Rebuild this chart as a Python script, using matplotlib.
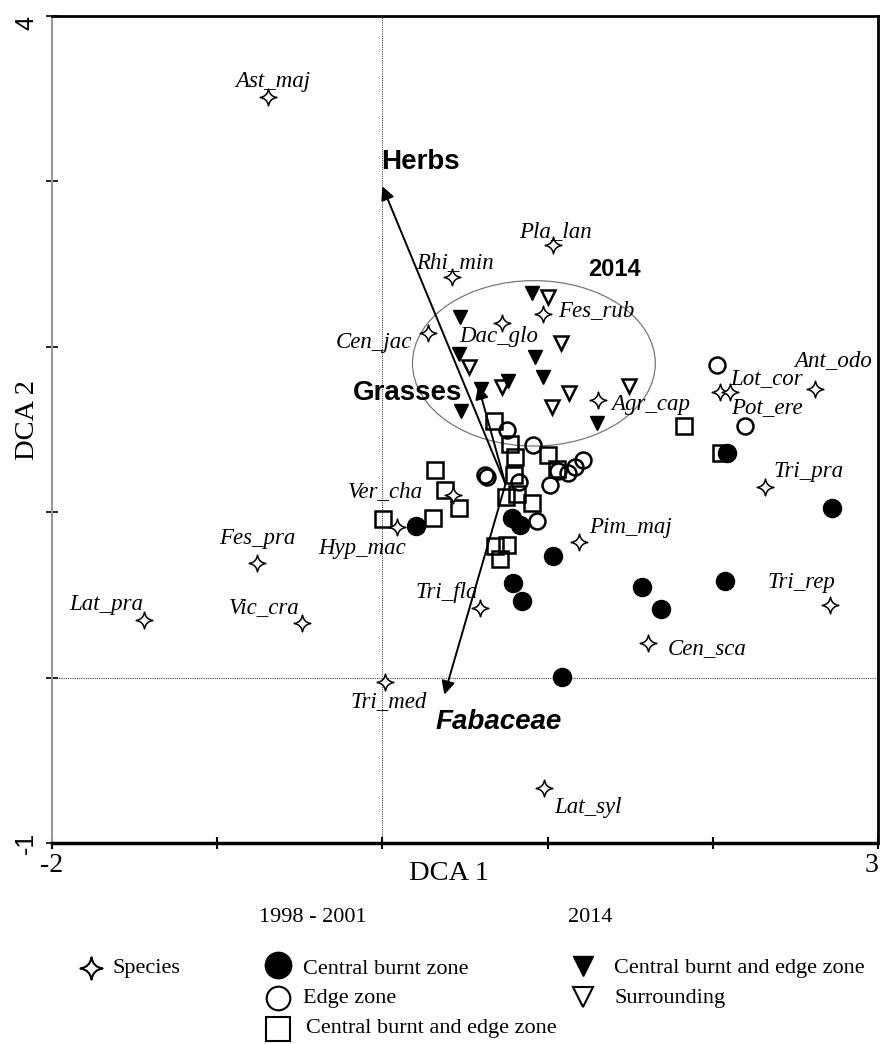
import matplotlib
matplotlib.use('Agg')
import matplotlib.pyplot as plt
from matplotlib.path import Path
from matplotlib.patches import Ellipse

# ---------------- data ----------------
species_names = ['Ast_maj', 'Pla_lan', 'Rhi_min', 'Fes_rub', 'Dac_glo', 'Cen_jac',
                 'Agr_cap', 'Lot_cor', 'Pot_ere', 'Ant_odo', 'Tri_pra', 'Tri_rep',
                 'Pim_maj', 'Cen_sca', 'Tri_fla', 'Ver_cha', 'Hyp_mac', 'Fes_pra',
                 'Lat_pra', 'Vic_cra', 'Tri_med', 'Lat_syl']
species_x = [-0.69, 1.03, 0.42, 0.975, 0.726, 0.278, 1.308, 2.046, 2.107, 2.621, 2.318,
             2.712, 1.192, 1.61, 0.593, 0.43, 0.091, -0.757, -1.441, -0.484, 0.018, 0.981]
species_y = [3.513, 2.618, 2.424, 2.201, 2.146, 2.086, 1.681, 1.729, 1.729, 1.747, 1.155,
             0.441, 0.822, 0.212, 0.423, 1.106, 0.913, 0.695, 0.351, 0.333, -0.024, -0.665]

# 1998 - 2001
central_burnt_x = [0.206, 0.787, 0.835, 1.035, 0.793, 0.847, 1.574, 1.689, 2.076, 1.09, 2.724, 2.088]
central_burnt_y = [0.919, 0.967, 0.925, 0.738, 0.574, 0.466, 0.55, 0.417, 0.586, 0.006, 1.028, 1.36]

edge_x = [0.757, 0.914, 0.623, 0.636, 0.829, 1.217, 1.168, 1.126, 1.065, 1.017, 0.938, 2.028, 2.197]
edge_y = [1.499, 1.409, 1.227, 1.215, 1.185, 1.318, 1.276, 1.239, 1.251, 1.167, 0.949, 1.892, 1.524]

cbe_9801_x = [0.678, 0.775, 0.805, 1.005, 0.321, 0.799, 0.381, 0.751, 0.817, 0.908, 1.059,
              0.466, 0.309, 0.006, 0.684, 0.757, 0.714, 1.828, 2.052]
cbe_9801_y = [1.554, 1.415, 1.336, 1.348, 1.258, 1.227, 1.137, 1.094, 1.112, 1.058, 1.264,
              1.028, 0.967, 0.961, 0.798, 0.804, 0.719, 1.524, 1.36]

# 2014
cbe_2014_x = [0.908, 0.472, 0.466, 0.926, 0.975, 0.763, 0.599, 0.478, 1.301]
cbe_2014_y = [2.328, 2.183, 1.959, 1.941, 1.82, 1.796, 1.747, 1.614, 1.542]

surr_2014_x = [1.005, 1.084, 0.527, 0.726, 1.132, 1.029, 1.495]
surr_2014_y = [2.303, 2.025, 1.88, 1.759, 1.723, 1.638, 1.765]

# environmental vectors
env_names = ['Herbs', 'Grasses', 'Fabaceae']
env_origin_x = 0.745
env_origin_y = 1.17
env_tip_x = [0.0, 0.58, 0.375]
env_tip_y = [2.97, 1.765, -0.103]

# ---------------- layout / styles ----------------
label_offsets = {  # pixel offsets of species labels from their star
    'Ast_maj': (4, 15), 'Pla_lan': (3, 13), 'Rhi_min': (3, 14), 'Fes_rub': (53, 3),
    'Dac_glo': (-4, -14), 'Cen_jac': (-54, -10), 'Agr_cap': (52, -5), 'Lot_cor': (46, 13),
    'Pot_ere': (36, -16), 'Ant_odo': (18, 28), 'Tri_pra': (43, 15), 'Tri_rep': (-29, 22),
    'Pim_maj': (51, 14), 'Cen_sca': (59, -6), 'Tri_fla': (-34, 15), 'Ver_cha': (-68, 3),
    'Hyp_mac': (-35, -22), 'Fes_pra': (0, 24), 'Lat_pra': (-38, 15), 'Vic_cra': (-38, 15),
    'Tri_med': (3, -20), 'Lat_syl': (44, -20),
}
env_label_pos = {'Herbs': (-0.01, 3.12, 'normal'), 'Grasses': (-0.176, 1.723, 'normal'),
                 'Fabaceae': (0.32, -0.266, 'italic')}

SERIF = 'Liberation Serif'
SANS = 'Liberation Sans'

c = 0.13
star_verts = [(0, 1), (c, c), (1, 0), (c, -c), (0, -1), (-c, -c), (-1, 0), (-c, c), (0, 1), (0, 1)]
star_codes = [Path.MOVETO, Path.CURVE3, Path.CURVE3, Path.CURVE3, Path.CURVE3,
              Path.CURVE3, Path.CURVE3, Path.CURVE3, Path.CURVE3, Path.CLOSEPOLY]
star = Path(star_verts, star_codes)

fig = plt.figure(figsize=(8.8, 10.44), dpi=100)
ax = fig.add_axes([52 / 880, 1 - 843 / 1044, (878 - 52) / 880, (843 - 16) / 1044])
ax.set_xlim(-2, 3)
ax.set_ylim(-1, 4)

ax.axhline(0, color='#444444', lw=0.8, ls=(0, (1, 1)), zorder=1)
ax.axvline(0, color='#444444', lw=0.8, ls=(0, (1, 1)), zorder=1)

ax.add_patch(Ellipse((0.917, 1.90), 1.47, 1.0, fill=False, ec='#777777', lw=0.9, zorder=1))

ax.plot(central_burnt_x, central_burnt_y, 'o', ms=13, mfc='black', mec='black', ls='none', zorder=3)
ax.plot(edge_x, edge_y, 'o', ms=11.5, mfc='none', mec='black', mew=1.8, ls='none', zorder=3)
ax.plot(cbe_9801_x, cbe_9801_y, 's', ms=11.5, mfc='none', mec='black', mew=1.8, ls='none', zorder=3)
ax.plot(cbe_2014_x, cbe_2014_y, 'v', ms=10, mfc='black', mec='black', ls='none', zorder=3)
ax.plot(surr_2014_x, surr_2014_y, 'v', ms=10, mfc='none', mec='black', mew=1.8, ls='none', zorder=3)
ax.plot(species_x, species_y, marker=star, ms=12, mfc='white', mec='black', mew=1.1,
        ls='none', zorder=3)

for name, x, y in zip(species_names, species_x, species_y):
    dx, dy = label_offsets[name]
    ax.annotate(name, (x, y), xytext=(dx, dy), textcoords='offset pixels',
                ha='center', va='center', fontsize=16.5, family=SERIF, style='italic', zorder=5)

for name, tx, ty in zip(env_names, env_tip_x, env_tip_y):
    ax.annotate('', xy=(tx, ty), xytext=(env_origin_x, env_origin_y),
                arrowprops=dict(arrowstyle='-|>', lw=1.4, color='black',
                                mutation_scale=20, shrinkA=0, shrinkB=0), zorder=4)
    lx, ly, st = env_label_pos[name]
    ax.text(lx, ly, name, ha='left', va='center', fontsize=20, family=SANS,
            weight='bold', style=st, zorder=5)

ax.text(1.247, 2.467, '2014', ha='left', va='center', fontsize=17, family=SANS,
        weight='bold', zorder=5)

# spines / ticks
for s in ['top', 'bottom', 'right']:
    ax.spines[s].set_color('black')
ax.spines['top'].set_linewidth(2)
ax.spines['bottom'].set_linewidth(2.5)
ax.spines['right'].set_linewidth(2)
ax.spines['left'].set_color('#999999')
ax.spines['left'].set_linewidth(1.5)

ax.set_xticks([-2, -1, 0, 1, 2, 3])
ax.set_xticklabels(['-2', '', '', '', '', '3'], fontsize=20, family=SERIF)
xl = ax.get_xticklabels()
xl[-1].set_horizontalalignment('right')
ax.set_yticks([-1, 0, 1, 2, 3, 4])
ax.set_yticklabels(['-1', '', '', '', '', '4'], fontsize=18, family=SANS, rotation=90, va='center')
yl = ax.get_yticklabels()
yl[0].set_verticalalignment('center')
yl[-1].set_verticalalignment('top')
ax.tick_params(axis='x', direction='inout', length=8, width=1.5, pad=3)
ax.tick_params(axis='y', direction='inout', length=8, width=1.2, pad=6)

fig.text(449 / 880, 1 - 873 / 1044, 'DCA 1', ha='center', va='center', fontsize=20.5, family=SERIF)
fig.text(27 / 880, 1 - 420 / 1044, 'DCA 2', ha='center', va='center', fontsize=20.5,
         family=SERIF, rotation=90)

# legend drawn in figure pixel space
lg = fig.add_axes([0, 0, 1, 1], zorder=-1)
lg.set_xlim(0, 880)
lg.set_ylim(1044, 0)
lg.axis('off')
lg.text(313, 918, '1998 - 2001', ha='center', va='center', fontsize=16, family=SERIF)
lg.text(590, 917, '2014', ha='center', va='center', fontsize=16, family=SERIF)
lg.plot([91], [968], marker=star, ms=16, mfc='white', mec='black', mew=1.5)
lg.text(112, 969, 'Species', ha='left', va='center', fontsize=16, family=SERIF)
lg.plot([278], [965], 'o', ms=19, mfc='black', mec='black')
lg.text(303, 969, 'Central burnt zone', ha='left', va='center', fontsize=16, family=SERIF)
lg.plot([278], [998], 'o', ms=17, mfc='none', mec='black', mew=1.5)
lg.text(303, 999, 'Edge zone', ha='left', va='center', fontsize=16, family=SERIF)
lg.plot([278], [1029], 's', ms=17, mfc='none', mec='black', mew=1.5)
lg.text(306, 1029, 'Central burnt and edge zone', ha='left', va='center', fontsize=16, family=SERIF)
lg.plot([583], [966], 'v', ms=14, mfc='black', mec='black')
lg.text(614, 969, 'Central burnt and edge zone', ha='left', va='center', fontsize=16, family=SERIF)
lg.plot([583], [997], 'v', ms=14, mfc='none', mec='black', mew=1.5)
lg.text(614, 999, 'Surrounding', ha='left', va='center', fontsize=16, family=SERIF)

fig.savefig('out.png', dpi=100)
